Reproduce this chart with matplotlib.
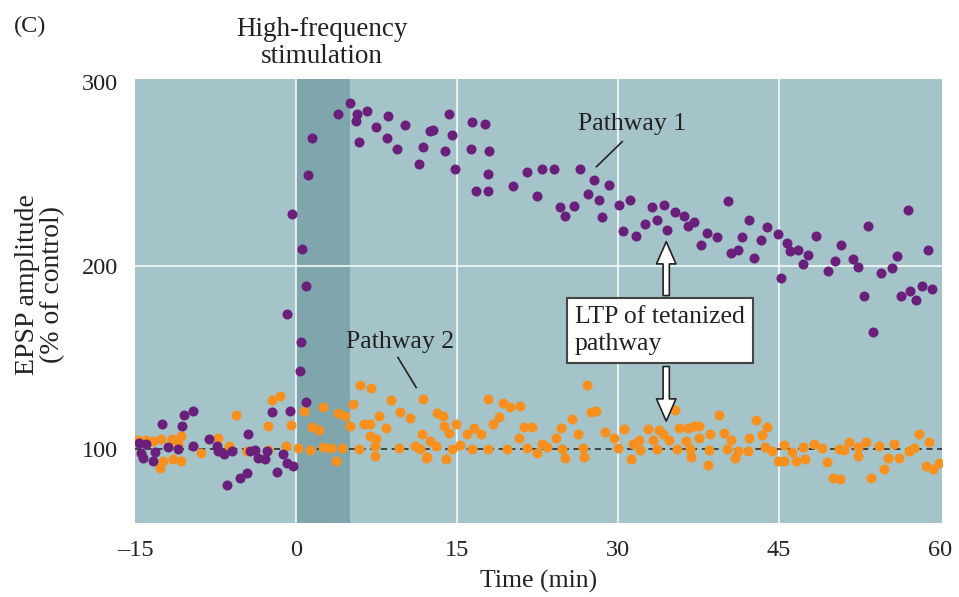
import numpy as np
import matplotlib.pyplot as plt

# Pathway 1 (tetanized): time (min), EPSP (% of control)
p1_time = [-14.6, -13.95, -14.4, -14.3, -13.3, -13.1, -12.5, -11.9, -11.0, -10.6,
           -10.4, -9.6, -9.6, -8.1, -7.4, -7.3, -6.7, -6.4, -6.0, -5.2,
           -4.6, -4.45, -4.3, -3.8, -3.5, -2.9, -2.7, -2.27, -1.8, -1.2,
           -0.8, -0.56, -0.25, -0.87, -0.37, 0.37, 0.47, 0.53, 0.9, 0.9,
           1.09, 1.47, 3.95, 5.05, 5.58, 5.67, 5.89, 6.6, 7.45, 8.47,
           8.6, 9.4, 10.2, 11.5, 11.8, 12.5, 12.74, 13.9, 14.24, 14.55,
           14.8, 16.3, 16.4, 16.8, 17.57, 17.9, 17.9, 17.97, 20.2, 21.5,
           22.5, 22.96, 24.05, 24.6, 25.1, 25.9, 26.45, 27.2, 27.8, 28.2,
           28.5, 29.2, 30.1, 30.5, 31.1, 31.7, 32.5, 33.2, 33.6, 34.3,
           34.6, 35.3, 36.2, 36.5, 37.1, 37.7, 38.3, 39.25, 40.3, 40.5,
           41.2, 41.6, 42.2, 42.65, 43.3, 43.9, 44.9, 45.2, 45.8, 46.0,
           46.8, 47.2, 47.7, 48.5, 49.6, 50.2, 50.8, 51.9, 52.4, 52.9,
           53.3, 53.8, 54.5, 55.5, 56.0, 56.4, 57.0, 57.2, 57.8, 58.3,
           58.9, 59.3]
p1_epsp = [103.3, 102.7, 98.2, 95.5, 93.6, 98.7, 114.0, 101.3, 100.4, 112.7,
           118.6, 120.8, 101.8, 105.8, 101.8, 99.1, 97.3, 80.6, 99.1, 84.2,
           87.0, 108.5, 99.1, 99.6, 95.5, 94.9, 99.1, 120.3, 87.9, 97.3,
           92.4, 120.8, 90.9, 173.7, 228.0, 142.6, 158.3, 209.0, 189.0, 125.9,
           249.5, 269.4, 282.6, 288.4, 278.4, 282.4, 267.2, 283.9, 275.4, 269.4,
           281.5, 263.6, 276.3, 255.3, 264.5, 273.4, 273.9, 262.2, 282.4, 270.8,
           252.7, 263.6, 278.0, 240.8, 277.2, 250.0, 240.8, 262.2, 243.1, 250.9,
           237.7, 252.5, 252.5, 231.9, 226.8, 232.6, 252.7, 239.0, 246.7, 235.5,
           226.4, 244.0, 232.8, 219.0, 235.5, 215.9, 222.6, 231.7, 225.0, 233.2,
           219.2, 229.0, 226.8, 221.7, 223.5, 211.0, 217.8, 215.4, 234.9, 206.9,
           208.7, 215.4, 225.0, 204.2, 214.1, 220.8, 217.4, 193.3, 212.3, 207.8,
           208.3, 201.1, 206.0, 216.3, 197.3, 202.3, 211.0, 203.8, 199.3, 183.7,
           221.7, 163.8, 196.0, 198.7, 205.4, 183.3, 230.4, 186.0, 181.5, 189.1,
           208.7, 187.3]

# Pathway 2 (control pathway)
p2_time = [-14.7, -13.95, -13.3, -12.7, -12.55, -12.4, -11.6, -11.5, -11.0, -10.7,
           -10.7, -8.85, -7.3, -6.2, -5.6, -4.55, -2.6, -2.6, -2.27, -1.5,
           -0.93, -0.47, 0.22, 0.78, 1.3, 1.47, 2.1, 2.55, 2.55, 3.3,
           3.7, 3.9, 4.3, 4.6, 5.05, 5.3, 5.9, 5.92, 6.3, 6.85,
           6.9, 6.98, 7.4, 7.4, 7.5, 7.7, 8.4, 8.88, 9.6, 9.7,
           10.6, 11.1, 11.6, 11.7, 11.8, 12.1, 12.2, 12.5, 13.0, 13.1,
           13.7, 13.8, 14.0, 14.3, 14.55, 14.9, 15.3, 15.95, 16.4, 16.6,
           17.2, 17.9, 17.9, 18.4, 18.9, 19.3, 19.7, 19.9, 20.8, 20.9,
           21.25, 21.5, 22.0, 22.5, 22.96, 23.4, 24.2, 24.7, 24.8, 25.1,
           25.75, 26.3, 26.7, 26.85, 27.1, 27.5, 28.0, 28.8, 29.6, 30.0,
           30.6, 31.2, 31.4, 32.0, 32.1, 32.8, 33.3, 33.6, 33.8, 34.2,
           34.8, 35.3, 35.5, 35.7, 36.3, 36.5, 36.7, 36.8, 37.1, 37.6,
           37.6, 38.4, 38.5, 38.6, 39.4, 39.9, 40.2, 40.5, 40.9, 41.2,
           42.1, 42.2, 42.9, 43.4, 43.7, 43.9, 44.4, 44.9, 45.5, 45.5,
           46.2, 46.6, 47.2, 47.4, 48.3, 49.0, 49.5, 50.0, 50.6, 50.7,
           51.1, 51.5, 52.4, 52.4, 53.1, 53.6, 54.3, 54.8, 55.2, 55.7,
           56.2, 57.1, 57.6, 58.1, 58.7, 59.0, 59.4, 59.9]
p2_epsp = [105.4, 105.4, 104.5, 90.0, 105.8, 93.6, 105.8, 94.6, 102.7, 107.2,
           93.6, 98.2, 106.3, 101.8, 119.0, 99.1, 112.7, 99.5, 126.8, 129.0,
           101.8, 113.2, 100.9, 120.8, 99.6, 112.1, 110.5, 123.2, 101.4, 100.9,
           93.6, 119.9, 100.9, 118.1, 112.7, 124.8, 100.4, 135.3, 114.1, 113.6,
           107.2, 133.2, 101.8, 96.4, 105.8, 118.1, 111.8, 126.8, 100.9, 120.5,
           117.2, 101.8, 100.4, 108.2, 127.5, 95.5, 96.0, 104.5, 101.8, 119.9,
           118.1, 113.0, 94.9, 109.1, 100.4, 114.1, 102.2, 108.2, 100.5, 111.8,
           108.2, 127.5, 100.5, 114.1, 117.6, 125.4, 100.5, 123.2, 106.0, 123.5,
           112.3, 100.9, 112.3, 98.2, 102.7, 101.3, 106.3, 111.8, 100.0, 95.5,
           116.7, 108.2, 100.9, 96.0, 134.8, 120.3, 120.8, 109.4, 106.3, 100.9,
           111.2, 94.6, 102.7, 105.4, 99.6, 110.9, 105.4, 100.5, 110.5, 108.2,
           105.1, 121.4, 100.5, 111.8, 104.5, 111.8, 100.4, 96.0, 113.0, 112.7,
           106.0, 91.8, 99.5, 108.2, 119.0, 108.7, 100.0, 105.1, 95.5, 99.1,
           99.1, 106.3, 115.9, 107.8, 101.4, 112.3, 99.1, 93.6, 102.2, 93.6,
           98.5, 93.6, 101.4, 94.9, 102.7, 100.9, 93.1, 84.6, 100.4, 84.1,
           99.5, 104.0, 101.4, 96.4, 104.0, 84.6, 101.8, 89.1, 95.5, 102.7,
           95.5, 99.1, 100.9, 108.2, 90.9, 104.0, 89.1, 92.4]

x_ticks = [-15, 0, 15, 30, 45, 60]
y_ticks = [100, 200, 300]

bg = '#a4c4c9'
band = '#7fa6ad'
purple = '#6a1f7b'
orange = '#f7901e'
ink = '#222222'

plt.rcParams['font.family'] = ['Liberation Serif', 'DejaVu Serif']

fig = plt.figure(figsize=(9.59, 5.97), dpi=100)
ax = fig.add_axes([0.1408, 0.124, 0.8415, 0.7437])
ax.set_facecolor(bg)

ax.set_xlim(-15, 60.2)
ax.set_ylim(60, 301.5)

#stimulation period
ax.axvspan(0, 5, color=band, zorder=1, lw=0)

#white grid lines
for xg in [0, 15, 30, 45]:
    ax.axvline(xg, color='white', lw=1.5, alpha=0.75, zorder=1.5)
ax.axhline(200, color='white', lw=1.5, alpha=0.75, zorder=1.5)

ax.axhline(100, color=ink, lw=1.1, ls=(0, (4, 3)), zorder=2)

ax.scatter(p2_time, p2_epsp, s=52, color=orange, lw=0, zorder=3)
ax.scatter(p1_time, p1_epsp, s=52, color=purple, lw=0, zorder=4)

for s in ax.spines.values():
    s.set_visible(False)
ax.set_xticks(x_ticks)
ax.set_xticklabels(['\u201315' if t == -15 else str(t) for t in x_ticks])
ax.set_yticks(y_ticks)
ax.tick_params(length=0, labelsize=17.5, colors=ink)
ax.tick_params(axis='x', pad=12)
ax.tick_params(axis='y', pad=12)
ax.set_xlabel('Time (min)', fontsize=18.5, color=ink)
ax.xaxis.set_label_coords(0.5, -0.106)
ax.set_ylabel('EPSP amplitude\n(% of control)', fontsize=20, color=ink, linespacing=1.0)
ax.yaxis.set_label_coords(-0.087, 0.536)

#labels outside plot
fig.text(0.014, 0.956, '(C)', fontsize=17.5, color=ink, va='center')
fig.text(0.336, 0.928, 'High-frequency\nstimulation', fontsize=19.5, color=ink,
         ha='center', va='center', linespacing=1.12)

#pathway labels
ax.text(31.3, 277, 'Pathway 1', fontsize=18.5, color=ink, ha='center', va='center', zorder=6)
ax.plot([30.4, 28.0], [267.4, 253.8], color=ink, lw=1.2, zorder=6)
ax.text(9.7, 158.7, 'Pathway 2', fontsize=18.5, color=ink, ha='center', va='center', zorder=6)
ax.plot([9.5, 11.2], [150, 133.7], color=ink, lw=1.2, zorder=6)

#LTP box with double arrow
arrow_style = 'simple,head_length=1.6,head_width=1.4,tail_width=0.45'
ax.annotate('', xy=(34.5, 213), xytext=(34.5, 183.7),
            arrowprops=dict(arrowstyle=arrow_style, fc='white', ec=ink, lw=1.2,
                            shrinkA=0, shrinkB=0), zorder=6)
ax.annotate('', xy=(34.5, 115.4), xytext=(34.5, 145.1),
            arrowprops=dict(arrowstyle=arrow_style, fc='white', ec=ink, lw=1.2,
                            shrinkA=0, shrinkB=0), zorder=6)
ax.text(26.0, 164.7, 'LTP of tetanized\npathway', fontsize=18.5, color=ink,
        ha='left', va='center', linespacing=1.3, zorder=7,
        bbox=dict(boxstyle='square,pad=0.3', fc='white', ec='#444444', lw=1.5))

fig.savefig('out.png', dpi=100)
